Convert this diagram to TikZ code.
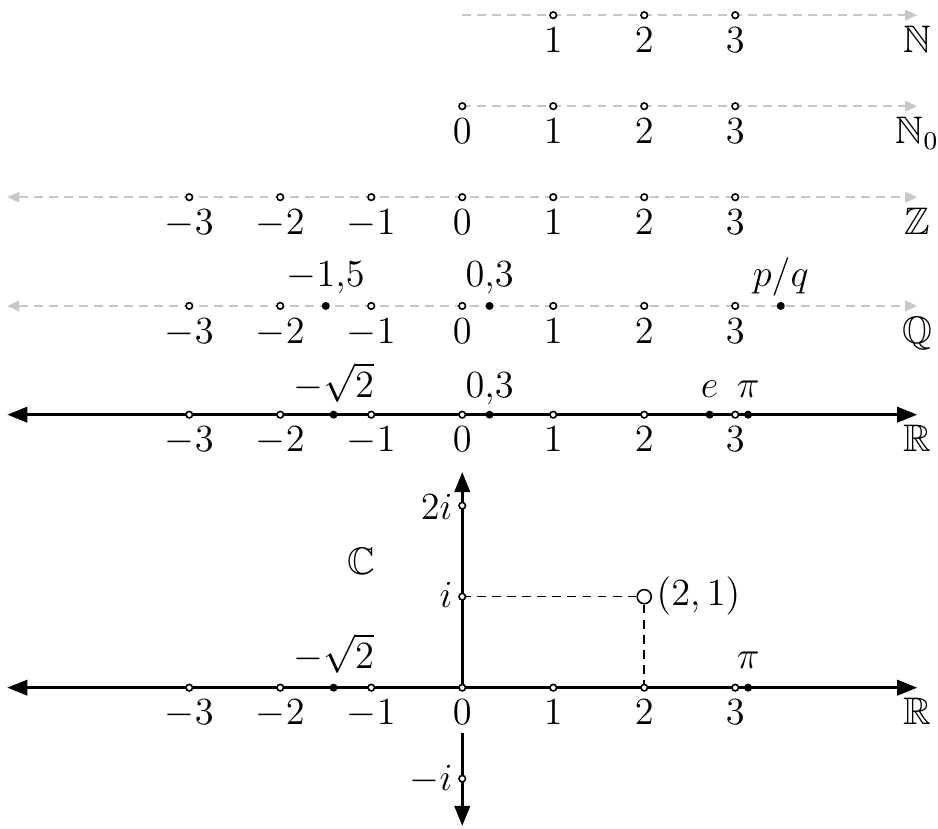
\documentclass[tikz,border=0pt]{standalone}
\usepackage{amssymb}
\usetikzlibrary{arrows.meta}
\definecolor{lgray}{gray}{0.78}
\tikzset{
  gtip/.style={},
  gline/.style={lgray, line width=0.5pt, dash pattern=on 2.8pt off 1.9pt},
  bline/.style={black, line width=0.9pt},
  lab/.style={anchor=base, font=\large, inner sep=0pt},
  ilab/.style={anchor=base east, font=\large, inner sep=0pt},
  opn/.style={draw=black, fill=white, line width=0.5pt},
  dot/.style={fill=black},
}
\newcommand{\GT}{Triangle[length=3.8pt,width=3.3pt]}
\newcommand{\BT}{Triangle[length=6.3pt,width=4.8pt]}
\begin{document}
\begin{tikzpicture}
\useasboundingbox (-5.080,-1.553) rectangle (5.228,7.557);
% rows
\def\yN{7.39}\def\yNo{6.39}\def\yZ{5.39}\def\yQ{4.195}\def\yR{3.0}
% N
\coordinate (nA) at (0,\yN); \coordinate (nB) at (5,\yN);
\draw[gline, -{\GT}] (nA) -- (nB);
\foreach \k in {1,2,3}{ \draw[opn] (\k,\yN) circle (0.036); \node[lab] (nl\k) at (\k,\yN-0.41) {$\k$}; }
\node[lab] (setN) at (5,\yN-0.41) {$\mathbb{N}$};
% N0
\coordinate (noA) at (0,\yNo); \coordinate (noB) at (5,\yNo);
\draw[gline, -{\GT}] (noA) -- (noB);
\foreach \k in {0,1,2,3}{ \draw[opn] (\k,\yNo) circle (0.036); \node[lab] (nol\k) at (\k,\yNo-0.41) {$\k$}; }
\node[lab] (setNo) at (5,\yNo-0.41) {$\mathbb{N}_0$};
% Z
\coordinate (zA) at (-5,\yZ); \coordinate (zB) at (5,\yZ);
\draw[gline, {\GT}-{\GT}] (zA) -- (zB);
\foreach \k in {-3,...,3}{ \draw[opn] (\k,\yZ) circle (0.036); \node[lab] at (\k,\yZ-0.41) {$\k$}; }
\node[lab] (setZ) at (5,\yZ-0.41) {$\mathbb{Z}$};
% Q
\coordinate (qA) at (-5,\yQ); \coordinate (qB) at (5,\yQ);
\draw[gline, {\GT}-{\GT}] (qA) -- (qB);
\foreach \k in {-3,...,3}{ \draw[opn] (\k,\yQ) circle (0.036); \node[lab] at (\k,\yQ-0.41) {$\k$}; }
\foreach \v in {-1.5,0.3,3.5}{ \fill[dot] (\v,\yQ) circle (0.044); }
\node[lab] (q1) at (-1.5,\yQ+0.21) {$-1{,}5$};
\node[lab] (q2) at (0.3,\yQ+0.21) {$0{,}3$};
\node[lab] (q3) at (3.5,\yQ+0.21) {$p/q$};
\node[lab] (setQ) at (5,\yQ-0.41) {$\mathbb{Q}$};
% R
\coordinate (rA) at (-5,\yR); \coordinate (rB) at (5,\yR);
\draw[bline, {\BT}-{\BT}] (rA) -- (rB);
\foreach \k in {-3,...,3}{ \draw[opn] (\k,\yR) circle (0.036); \node[lab] at (\k,\yR-0.41) {$\k$}; }
\foreach \v in {-1.41421,0.3,2.71828,3.14159}{ \fill[dot] (\v,\yR) circle (0.044); }
\node[lab] (r1) at (-1.41421,\yR+0.19) {$-\sqrt{2}$};
\node[lab] (r2) at (0.3,\yR+0.19) {$0{,}3$};
\node[lab] (r3) at (2.71828,\yR+0.19) {$e$};
\node[lab] (r4) at (3.14159,\yR+0.19) {$\pi$};
\node[lab] (setR) at (5,\yR-0.41) {$\mathbb{R}$};
% C plane
\coordinate (cA) at (-5,0); \coordinate (cB) at (5,0);
\coordinate (o) at (0,0); \coordinate (iT) at (0,2.37);
\coordinate (iL) at (0,-0.5); \coordinate (iB) at (0,-1.52);
\draw[bline, {\BT}-{\BT}] (cA) -- (cB);
\draw[bline, -{\BT}] (o) -- (iT);
\draw[bline, -{\BT}] (iL) -- (iB);
\node[circle, draw, fill=white, line width=0.5pt, minimum size=0.155cm, inner sep=0pt] (p) at (2,1) {};
\coordinate (i1) at (0,1); \coordinate (r2c) at (2,0);
\draw[line width=0.5pt, dash pattern=on 2.8pt off 1.9pt] (i1) -- (p.west);
\draw[line width=0.5pt, dash pattern=on 2.8pt off 1.9pt] (p.south) -- (r2c);
\foreach \k in {-3,...,3}{ \draw[opn] (\k,0) circle (0.036); \node[lab] at (\k,-0.41) {$\k$}; }
\foreach \k in {2,1,-1}{ \draw[opn] (0,\k) circle (0.036); }
\foreach \v in {-1.41421,3.14159}{ \fill[dot] (\v,0) circle (0.044); }
\node[lab] (c1) at (-1.41421,0.21) {$-\sqrt{2}$};
\node[lab] (c2) at (3.14159,0.21) {$\pi$};
\node[lab] (setR2) at (5,-0.41) {$\mathbb{R}$};
\node[lab] (setC) at (-1.11,1.24) {$\mathbb{C}$};
\node[ilab] (l2i) at (-0.1,1.85) {$2i$};
\node[ilab] (li) at (-0.1,0.88) {$i$};
\node[ilab] (lmi) at (-0.1,-1.13) {$-i$};
\node[anchor=base west, font=\large, inner sep=0pt] (lp) at (2.13,0.9) {$(2,1)$};
\end{tikzpicture}
\end{document}
